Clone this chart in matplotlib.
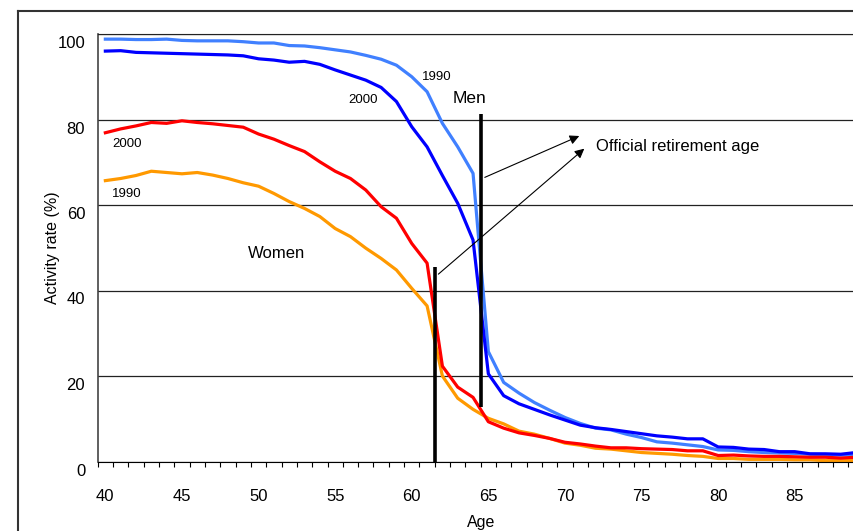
import matplotlib
matplotlib.use('Agg')
import matplotlib.pyplot as plt
from matplotlib.lines import Line2D
from matplotlib.transforms import ScaledTranslation

plt.rcParams['font.family'] = ['Liberation Sans', 'DejaVu Sans']

ages = list(range(40, 90))
men_1990 = [98.8, 98.8, 98.7, 98.7, 98.8, 98.5, 98.4, 98.4, 98.4, 98.2,
            97.9, 97.9, 97.3, 97.2, 96.8, 96.3, 95.8, 95.0, 94.1, 92.7,
            90.0, 86.5, 79.1, 73.6, 67.4, 25.7, 18.5, 16.0, 13.8, 12.0,
            10.3, 8.9, 7.8, 7.4, 6.4, 5.6, 4.6, 4.3, 3.9, 3.5,
            2.7, 2.6, 2.3, 2.1, 2.0, 1.9, 1.7, 1.6, 1.5, 1.6]
men_2000 = [96.0, 96.1, 95.7, 95.6, 95.5, 95.4, 95.3, 95.2, 95.1, 94.9,
            94.2, 93.9, 93.4, 93.6, 92.9, 91.6, 90.4, 89.2, 87.5, 84.2,
            78.3, 73.6, 66.9, 60.4, 51.8, 20.5, 15.4, 13.5, 12.2, 10.9,
            9.7, 8.5, 7.9, 7.5, 7.0, 6.5, 6.0, 5.7, 5.3, 5.3,
            3.4, 3.3, 2.9, 2.8, 2.3, 2.3, 1.8, 1.8, 1.7, 2.1]
women_2000 = [76.9, 77.8, 78.5, 79.3, 79.1, 79.7, 79.3, 79.0, 78.6, 78.2,
              76.6, 75.4, 73.9, 72.5, 70.1, 67.9, 66.2, 63.5, 59.6, 56.9,
              51.0, 46.4, 22.3, 17.4, 15.0, 9.3, 7.8, 6.7, 6.1, 5.4,
              4.5, 4.1, 3.6, 3.2, 3.2, 3.0, 2.9, 2.8, 2.5, 2.5,
              1.4, 1.5, 1.3, 1.2, 1.2, 1.1, 1.0, 1.0, 0.8, 1.0]
women_1990 = [65.7, 66.2, 66.9, 67.9, 67.6, 67.3, 67.6, 67.0, 66.2, 65.2,
              64.4, 62.7, 60.8, 59.2, 57.3, 54.5, 52.6, 49.9, 47.5, 44.8,
              40.5, 36.4, 20.0, 14.8, 12.2, 10.1, 8.8, 7.1, 6.4, 5.4,
              4.3, 3.8, 3.1, 2.9, 2.5, 2.1, 1.9, 1.7, 1.4, 1.2,
              0.7, 0.7, 0.5, 0.5, 0.5, 0.4, 0.4, 0.2, 0.2, 0.2]

# official retirement age markers (age, y from, y to)
women_ret = (61.5, 0, 45.5)
men_ret = (64.5, 12.7, 81.2)

fig = plt.figure(figsize=(8.54, 5.31), dpi=100)
ax = fig.add_axes([97.7 / 854, 69.5 / 531, 766 / 854, 427.5 / 531])

ax.plot(ages, men_1990, color='#4080ff', lw=2.3, zorder=3)
ax.plot(ages, men_2000, color='#0000ff', lw=2.3, zorder=3)
ax.plot(ages, women_2000, color='#ff0000', lw=2.3, zorder=3)
ax.plot(ages, women_1990, color='#ff9900', lw=2.3, zorder=2)

ax.vlines([women_ret[0]], women_ret[1], women_ret[2], color='black', lw=2.6, zorder=4)
ax.vlines([men_ret[0]], men_ret[1], men_ret[2], color='black', lw=2.6, zorder=4)

arrow = dict(arrowstyle='-|>', color='black', lw=0.8, mutation_scale=14)
ax.annotate('', xy=(71.1, 76.4), xytext=(64.6, 66.2), arrowprops=arrow, zorder=5)
ax.annotate('', xy=(71.4, 73.6), xytext=(61.6, 43.4), arrowprops=arrow, zorder=5)

ax.text(72.0, 73.6, 'Official retirement age', fontsize=12, va='center', ha='left')
ax.text(63.75, 85.0, 'Men', fontsize=12.5, va='center', ha='center')
ax.text(51.2, 48.7, 'Women', fontsize=12, va='center', ha='center')
ax.text(61.6, 90.0, '1990', fontsize=9.5, va='center', ha='center')
ax.text(56.8, 84.6, '2000', fontsize=9.5, va='center', ha='center')
ax.text(41.4, 74.3, '2000', fontsize=9.5, va='center', ha='center')
ax.text(41.4, 62.5, '1990', fontsize=9.5, va='center', ha='center')

ax.set_xlim(39.5, 89.5)
ax.set_ylim(0, 100)
ax.set_yticks([0, 20, 40, 60, 80, 100])
ax.set_xticks(range(40, 90, 5))
ax.set_xticks([a + 0.5 for a in range(39, 89)], minor=True)
ax.tick_params(axis='x', which='major', length=0, pad=19.5, labelsize=12)
ax.tick_params(axis='x', which='minor', direction='out', length=3.5, width=0.8)
ax.tick_params(axis='y', length=0, pad=9, labelsize=12)
for lab in ax.get_yticklabels():
    lab.set_transform(lab.get_transform() + ScaledTranslation(0, -8 / 100, fig.dpi_scale_trans))

ax.grid(axis='y', color='#222222', lw=0.9)
ax.set_axisbelow(True)
ax.spines['right'].set_visible(False)
ax.spines['top'].set_color('#222222')
ax.spines['left'].set_color('#444444')
ax.spines['left'].set_linewidth(1.2)
ax.spines['bottom'].set_color('black')

ax.set_xlabel('Age', fontsize=11.5, labelpad=8)
ax.set_ylabel('Activity rate (%)', fontsize=11.5)
ax.yaxis.set_label_coords(-0.049, 0.5)

# chart area border (top and left visible)
fig.add_artist(Line2D([18 / 854, 18 / 854], [0, 1 - 11 / 531], color='#333333', lw=1.5))
fig.add_artist(Line2D([18 / 854, 1], [1 - 11 / 531, 1 - 11 / 531], color='#333333', lw=1.5))

fig.savefig('out.png', dpi=100)
